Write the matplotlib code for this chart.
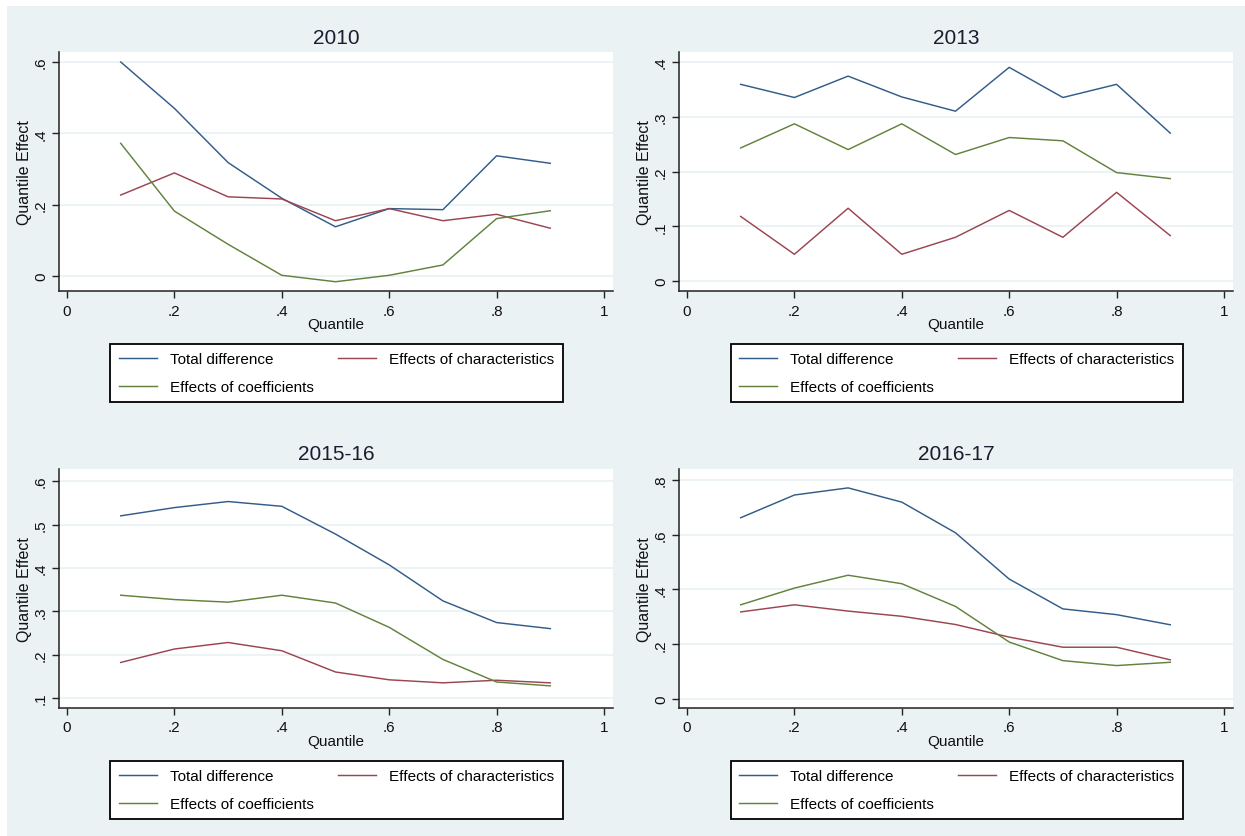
import matplotlib
matplotlib.use("Agg")
import matplotlib.pyplot as plt
from matplotlib import font_manager
from matplotlib.patches import Rectangle

# quantile decomposition results (decile points)
quantiles = [0.1, 0.2, 0.3, 0.4, 0.5, 0.6, 0.7, 0.8, 0.9]

total_2010 = [0.600, 0.470, 0.318, 0.218, 0.138, 0.189, 0.186, 0.337, 0.316]
chars_2010 = [0.227, 0.289, 0.222, 0.216, 0.155, 0.189, 0.155, 0.173, 0.134]
coefs_2010 = [0.372, 0.182, 0.089, 0.002, -0.016, 0.002, 0.031, 0.161, 0.183]

total_2013 = [0.359, 0.335, 0.374, 0.336, 0.310, 0.390, 0.335, 0.359, 0.270]
chars_2013 = [0.118, 0.049, 0.133, 0.049, 0.080, 0.129, 0.080, 0.162, 0.083]
coefs_2013 = [0.243, 0.287, 0.240, 0.287, 0.231, 0.262, 0.256, 0.198, 0.187]

total_2015 = [0.520, 0.539, 0.553, 0.542, 0.478, 0.407, 0.324, 0.274, 0.260]
chars_2015 = [0.182, 0.213, 0.228, 0.209, 0.160, 0.142, 0.135, 0.141, 0.135]
coefs_2015 = [0.337, 0.327, 0.321, 0.337, 0.319, 0.263, 0.189, 0.137, 0.128]

total_2016 = [0.662, 0.745, 0.771, 0.719, 0.607, 0.438, 0.329, 0.308, 0.271]
chars_2016 = [0.318, 0.344, 0.321, 0.302, 0.272, 0.226, 0.189, 0.189, 0.143]
coefs_2016 = [0.344, 0.405, 0.452, 0.421, 0.338, 0.208, 0.140, 0.122, 0.134]

titles = ["2010", "2013", "2015-16", "2016-17"]
series = [
    (total_2010, chars_2010, coefs_2010),
    (total_2013, chars_2013, coefs_2013),
    (total_2015, chars_2015, coefs_2015),
    (total_2016, chars_2016, coefs_2016),
]
xticks = [0, 0.2, 0.4, 0.6, 0.8, 1]
yticks = [
    [0, 0.2, 0.4, 0.6],
    [0, 0.1, 0.2, 0.3, 0.4],
    [0.1, 0.2, 0.3, 0.4, 0.5, 0.6],
    [0, 0.2, 0.4, 0.6, 0.8],
]
ylims = [(-0.042, 0.628), (-0.018, 0.418), (0.077, 0.628), (-0.033, 0.840)]

labels = ["Total difference", "Effects of characteristics", "Effects of coefficients"]
colors = ["#335c89", "#9a4550", "#62823d"]

BG = "#EAF2F3"
W, H = 1245, 837

names = {f.name for f in font_manager.fontManager.ttflist}
NARROW = "Liberation Sans Narrow" if "Liberation Sans Narrow" in names else "Liberation Sans"
REGULAR = "Liberation Sans"
# regular face is wider, so shrink it a little when the narrow cut is missing
small = 12 if NARROW != REGULAR else 11


def stata_fmt(v):
    # Stata style tick labels: 0, .2, .4, 1
    if abs(v) < 1e-9:
        return "0"
    if abs(v - round(v)) < 1e-9:
        return str(int(round(v)))
    return f"{v:.1f}".lstrip("0")


def fx(px):
    return px / W


def fy(py):
    return 1 - py / H


fig = plt.figure(figsize=(W / 100, H / 100), dpi=100, facecolor="white")
fig.patches.append(Rectangle((fx(7), 0), 1 - fx(7), fy(7), transform=fig.transFigure,
                             facecolor=BG, edgecolor="none", zorder=-10))

for i in range(4):
    dx = 620 * (i % 2)
    dy = 417 * (i // 2)
    left, right = 59 + dx, 613 + dx
    top, bottom = 53 + dy, 292 + dy
    ax = fig.add_axes([fx(left), fy(bottom), fx(right - left), (bottom - top) / H])
    ax.set_zorder(1)
    ax.set_facecolor("white")

    total, chars, coefs = series[i]
    h1, = ax.plot(quantiles, total, color=colors[0], lw=1.05, zorder=3)
    h2, = ax.plot(quantiles, chars, color=colors[1], lw=1.05, zorder=3)
    h3, = ax.plot(quantiles, coefs, color=colors[2], lw=1.05, zorder=3)

    ax.set_xlim(-0.0149, 1.0168)
    ax.set_ylim(*ylims[i])
    ax.set_xticks(xticks)
    ax.set_xticklabels([stata_fmt(v) for v in xticks], fontfamily=NARROW, fontsize=small)
    ax.set_yticks(yticks[i])
    ax.set_yticklabels([stata_fmt(v) for v in yticks[i]], fontfamily=NARROW, fontsize=small,
                       rotation=90, va="center")
    ax.tick_params(axis="both", length=5, width=1.0, color="#222222", labelcolor="#111111")
    ax.tick_params(axis="x", pad=4)
    ax.tick_params(axis="y", pad=3)
    ax.grid(axis="y", color=BG, lw=1.3)
    ax.set_axisbelow(True)
    for side in ["top", "right"]:
        ax.spines[side].set_visible(False)
    for side in ["left", "bottom"]:
        ax.spines[side].set_color("#222222")
        ax.spines[side].set_linewidth(1.1)

    cx = (left + right) / 2
    fig.text(fx(cx), fy(38 + dy), titles[i], ha="center", va="center",
             fontfamily=NARROW, fontsize=small + 4, color="#1c1c30")
    fig.text(fx(cx), fy(325 + dy), "Quantile", ha="center", va="center",
             fontfamily=NARROW, fontsize=small, color="#111111")
    fig.text(fx(24 + dx), fy((top + bottom) / 2), "Quantile Effect", rotation=90,
             ha="center", va="center", fontfamily=REGULAR, fontsize=11.5, color="#111111")

    leg = ax.legend([h1, h3, h2], [labels[0], labels[2], labels[1]], ncol=2,
                    loc="upper center", bbox_to_anchor=(fx(336.5 + dx), fy(345 + dy)),
                    bbox_transform=fig.transFigure, prop={"family": NARROW, "size": small},
                    frameon=True, fancybox=False, framealpha=1, edgecolor="black",
                    handlelength=2.5, handletextpad=0.85, columnspacing=1.6,
                    labelspacing=0.93, borderpad=0.53, borderaxespad=0)
    leg.get_frame().set_linewidth(1.3)

fig.savefig("out.png", dpi=100, facecolor="white")
